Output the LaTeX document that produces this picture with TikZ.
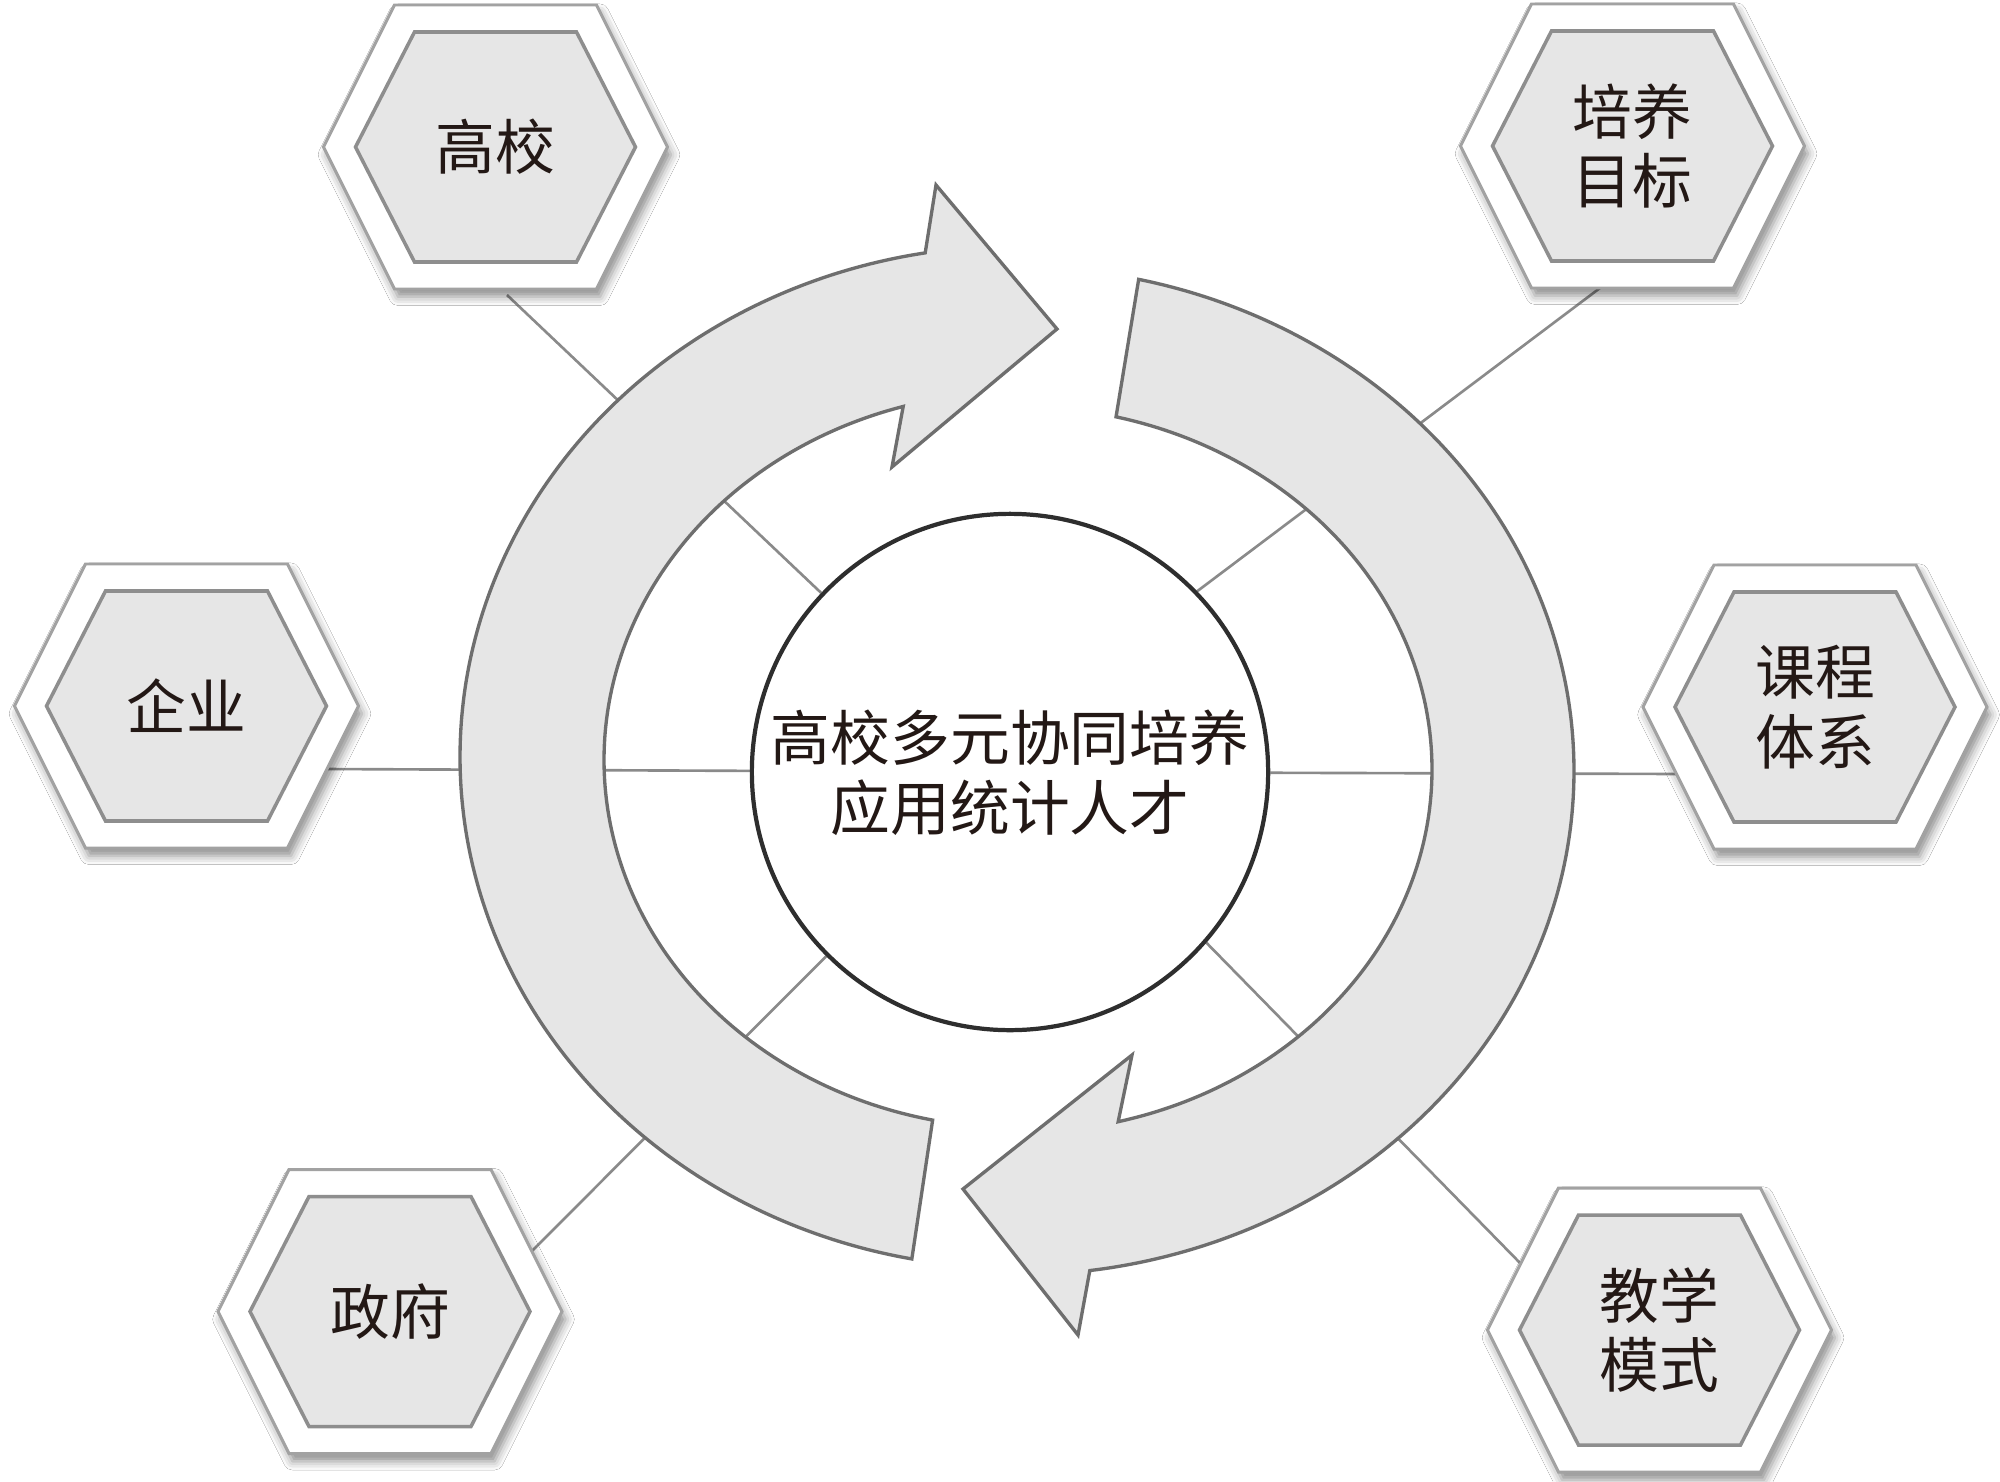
\documentclass[tikz,border=0pt]{standalone}
\usepackage{fontspec}
\newfontfamily\cjk{Noto Sans CJK SC}
\usetikzlibrary{shadows.blur}
\pgfdeclarelayer{bg}
\pgfsetlayers{bg,main}
\definecolor{ringfill}{HTML}{E6E6E6}
\definecolor{ringline}{HTML}{6E6E6E}
\definecolor{hexfill}{HTML}{E6E6E6}
\definecolor{hexiline}{HTML}{8E8E8E}
\definecolor{hexoline}{HTML}{A2A2A2}
\definecolor{connline}{HTML}{8A8A8A}
\definecolor{txt}{HTML}{231815}
\definecolor{circline}{HTML}{2E2E2E}
\tikzset{
  hexo/.style={fill=white, draw=hexoline, line width=0.85pt, line join=miter,
    blur shadow={shadow xshift=1pt, shadow yshift=-2.2pt, shadow blur radius=2.5pt, shadow opacity=45}},
  hexi/.style={fill=hexfill, draw=hexiline, line width=1pt, line join=miter},
  hextext/.style={text=txt, align=center, inner sep=0pt, font=\cjk\fontsize{17pt}{19.8pt}\selectfont},
  ringarrow/.style={fill=ringfill, draw=ringline, line width=0.95pt, line join=miter},
  conn/.style={draw=connline, line width=0.75pt},
  centre/.style={circle, fill=white, draw=circline, line width=1.2pt, minimum size=5.16cm, inner sep=0pt},
}
\newcommand\hexcell[4]{%
  \begin{scope}[shift={(#2,#3)}]
    \path[hexo] (-172,0) -- (-101,-142) -- (101,-142) -- (172,0) -- (101,142) -- (-101,142) -- cycle;
    \path[hexi] (-140,0) -- (-81,-115) -- (81,-115) -- (140,0) -- (81,115) -- (-81,115) -- cycle;
    \node[hextext] (#1) at (0,0) {#4};
  \end{scope}}
\begin{document}
\begin{tikzpicture}[x=0.01cm, y=-0.01cm]
\useasboundingbox (0,0) rectangle (2000,1482);

% left circular arrow (head pointing right at the top)
\path[ringarrow]
  plot[domain=259.2:99.4, samples=120, smooth] ({1016+556*cos(\x)},{757-511*sin(\x)})
  -- (936,185) -- (1057,329) -- (892,467)
  -- plot[domain=106.1:258.1, samples=120, smooth] ({1018+414*cos(\x)},{760-368*sin(\x)})
  -- cycle;

% right circular arrow (head pointing left at the bottom)
\path[ringarrow]
  plot[domain=77.3:-82.4, samples=120, smooth] ({1016+558*cos(\x)},{771-504*sin(\x)})
  -- (1078,1335) -- (963,1189) -- (1132,1055)
  -- plot[domain=-76:76.3, samples=120, smooth] ({1018+414*cos(\x)},{769.5-363*sin(\x)})
  -- cycle;

% centre circle
\node[centre] (ctr) at (1010,772) {};
\node[hextext] (ctrtext) at (1010,773) {高校多元协同培养\\应用统计人才};

% hexagons
\hexcell{gx}{495.5}{147}{高校}
\hexcell{pymb}{1632.5}{146}{培养\\目标}
\hexcell{qy}{186.5}{706}{企业}
\hexcell{kctx}{1815}{707}{课程\\体系}
\hexcell{zf}{390}{1311.5}{政府}
\hexcell{jxms}{1659.5}{1330}{教学\\模式}

% connector ends (inside the outer hexagons)
\coordinate (e1) at (507,295);
\coordinate (e2) at (1600,288);
\coordinate (e3) at (322,769);
\coordinate (e4) at (1682,774);
\coordinate (e5) at (528,1255);
\coordinate (e6) at (1522,1265);

\begin{pgfonlayer}{bg}
  \fill[white] (0,0) rectangle (2000,1482);
  \draw[conn] (ctr) -- (e1);
  \draw[conn] (ctr.44) -- (e2);
  \draw[conn] (ctr) -- (e3);
  \draw[conn] (ctr) -- (e4);
  \draw[conn] (ctr) -- (e5);
  \draw[conn] (ctr.-41) -- (e6);
\end{pgfonlayer}
\end{tikzpicture}
\end{document}
